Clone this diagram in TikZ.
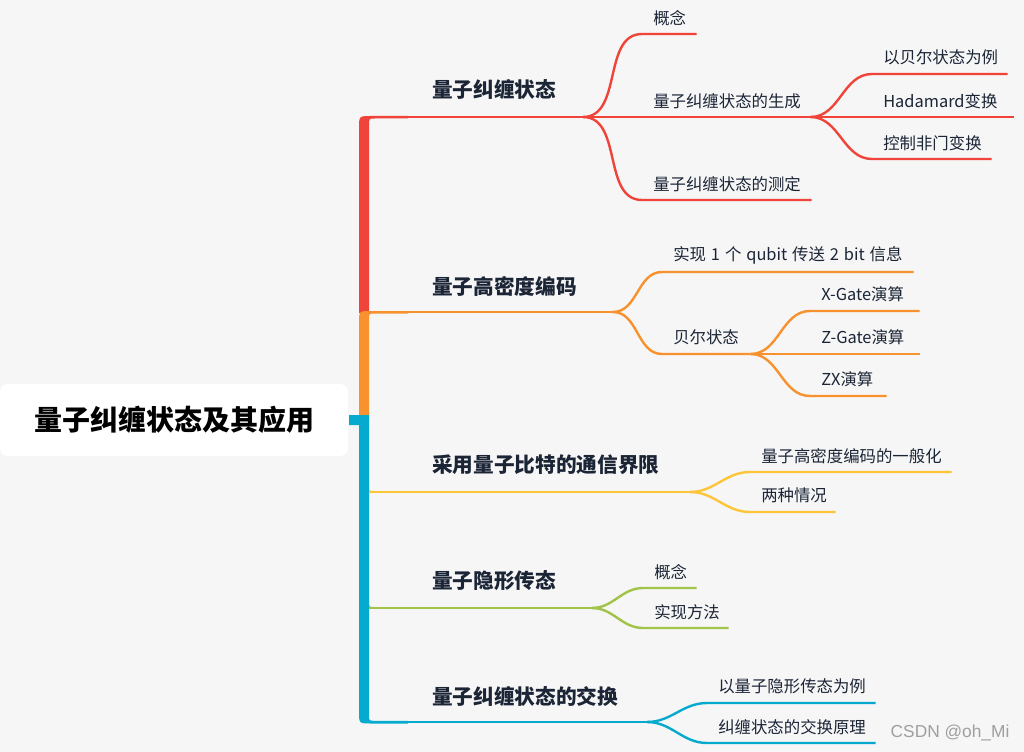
\documentclass[tikz,border=0pt]{standalone}
\usepackage{fontspec}
\setmainfont{Noto Sans CJK SC}
\newfontfamily\wmfont{Liberation Sans}
\definecolor{bg}{HTML}{F6F6F6}
\definecolor{ink}{HTML}{1B2536}
\definecolor{mmred}{HTML}{F0443A}
\definecolor{mmorange}{HTML}{F8922E}
\definecolor{mmyellow}{HTML}{FDC63A}
\definecolor{mmgreen}{HTML}{A2C24A}
\definecolor{mmblue}{HTML}{06AACF}

\begin{document}
\begin{tikzpicture}[x=0.75pt, y=-0.75pt,
      root/.style={fill=white, rounded corners=6pt, minimum width=261pt, minimum height=54pt, inner sep=0pt, font=\bfseries\fontsize{21}{25}\selectfont, text=black},
      main/.style={anchor=west, inner sep=0pt, font=\bfseries\fontsize{15.5}{18}\selectfont, text=ink},
      sub/.style={anchor=south west, inner xsep=8.25pt, inner ysep=0pt, minimum height=24pt, align=left, font=\fontsize{12.3}{14}\selectfont, text=ink},
      br/.style={line width=1.8pt},
      fan/.style={out=0, in=180},
    ]
      \fill[bg] (0,0) rectangle (1024,752);
      \useasboundingbox (0,0) rectangle (1024,752);
      \node[root] (root) at (174,420) {量子纠缠状态及其应用};
      \fill[mmred] (359,313) -- (359,128) .. controls (359,116) .. (371,116) -- (408,116) -- (408,118.5) -- (375,118.5) .. controls (369,118.5) .. (369,125) -- (369,313) -- cycle;
      \fill[mmorange] (359,420) -- (359,323) .. controls (359,311) .. (371,311) -- (408,311) -- (408,313.5) -- (375,313.5) .. controls (369,313.5) .. (369,320) -- (369,420) -- cycle;
      \fill[mmblue] (349,415) -- (369,415) -- (369,715) .. controls (369,720.8) .. (375,720.8) -- (408,720.8) -- (408,723.5) -- (371,723.5) .. controls (359,723.5) .. (359,711.5) -- (359,425) -- (349,425) -- cycle;
      \fill[mmyellow] (369,485) .. controls (369,491) .. (375,491) -- (369,491) -- cycle;
      \fill[mmgreen] (369,601) .. controls (369,607) .. (375,607) -- (369,607) -- cycle;
      \node[main] (rm) at (432,90) {量子纠缠状态};
      \node[main] (om) at (432,286) {量子高密度编码};
      \node[main] (ym) at (432,465) {采用量子比特的通信界限};
      \node[main] (gm) at (432,581) {量子隐形传态};
      \node[main] (bm) at (432,697) {量子纠缠状态的交换};
      \coordinate (rt) at (369,117); \coordinate (rf) at (583,117);
      \coordinate (ot) at (369,312); \coordinate (of) at (613,312);
      \coordinate (yt) at (369,492); \coordinate (yf) at (690,492);
      \coordinate (gt) at (369,608); \coordinate (gf) at (592,608);
      \coordinate (bt) at (369,722); \coordinate (bf) at (647,722);
      \node[sub, text width=24pt] (r1) at (642,34) {概念};
      \node[sub, text width=109.5pt] (r2) at (642,117) {量子纠缠状态的生成};
      \node[sub, text width=110.25pt] (r3) at (642,200) {量子纠缠状态的测定};
      \node[sub, text width=84.75pt] (r21) at (872,74) {以贝尔状态为例};
      \node[sub, text width=89.25pt] (r22) at (872,117) {Hadamard变换};
      \node[sub, text width=72.75pt] (r23) at (872,159) {控制非门变换};
      \node[sub, text width=171.75pt] (o1) at (662,272) {\mbox{\spaceskip=0.3em 实现 1 个 qubit 传送 2 bit 信息}};
      \node[sub, text width=49.5pt] (o2) at (662,354) {贝尔状态};
      \node[sub, text width=65.25pt] (o21) at (810,311) {X-Gate演算};
      \node[sub, text width=65.25pt] (o22) at (810,354) {Z-Gate演算};
      \node[sub, text width=40.5pt] (o23) at (810,396) {ZX演算};
      \node[sub, text width=134.25pt] (y1) at (750,472) {量子高密度编码的一般化};
      \node[sub, text width=47.25pt] (y2) at (750,512) {两种情况};
      \node[sub, text width=23.25pt] (g1) at (643,588) {概念};
      \node[sub, text width=47.25pt] (g2) at (643,628) {实现方法};
      \node[sub, text width=109.5pt] (b1) at (707,703) {以量子隐形传态为例};
      \node[sub, text width=109.5pt] (b2) at (707,743) {纠缠状态的交换原理};
      \draw[br, mmred] (rt)--(rf);
      \draw[br, mmred] (rf) to[fan] (r1.south west)--(r1.south east);
      \draw[br, mmred] (rf) to[fan] (r2.south west)--(r2.south east);
      \draw[br, mmred] (rf) to[fan] (r3.south west)--(r3.south east);
      \draw[br, mmred] (r2.south east) to[fan] (r21.south west)--(r21.south east);
      \draw[br, mmred] (r2.south east) to[fan] (r22.south west)--(r22.south east);
      \draw[br, mmred] (r2.south east) to[fan] (r23.south west)--(r23.south east);
      \draw[br, mmorange] (ot)--(of);
      \draw[br, mmorange] (of) to[fan] (o1.south west)--(o1.south east);
      \draw[br, mmorange] (of) to[fan] (o2.south west)--(o2.south east);
      \draw[br, mmorange] (o2.south east) to[fan] (o21.south west)--(o21.south east);
      \draw[br, mmorange] (o2.south east) to[fan] (o22.south west)--(o22.south east);
      \draw[br, mmorange] (o2.south east) to[fan] (o23.south west)--(o23.south east);
      \draw[br, mmyellow] (yt)--(yf);
      \draw[br, mmyellow] (yf) to[fan] (y1.south west)--(y1.south east);
      \draw[br, mmyellow] (yf) to[fan] (y2.south west)--(y2.south east);
      \draw[br, mmgreen] (gt)--(gf);
      \draw[br, mmgreen] (gf) to[fan] (g1.south west)--(g1.south east);
      \draw[br, mmgreen] (gf) to[fan] (g2.south west)--(g2.south east);
      \draw[br, mmblue] (bt)--(bf);
      \draw[br, mmblue] (bf) to[fan] (b1.south west)--(b1.south east);
      \draw[br, mmblue] (bf) to[fan] (b2.south west)--(b2.south east);
      \node[anchor=west, font=\wmfont\fontsize{13}{15}\selectfont, text=gray!75] (wm) at (886,733) {CSDN @oh\_Mi};
    \end{tikzpicture}
\end{document}
